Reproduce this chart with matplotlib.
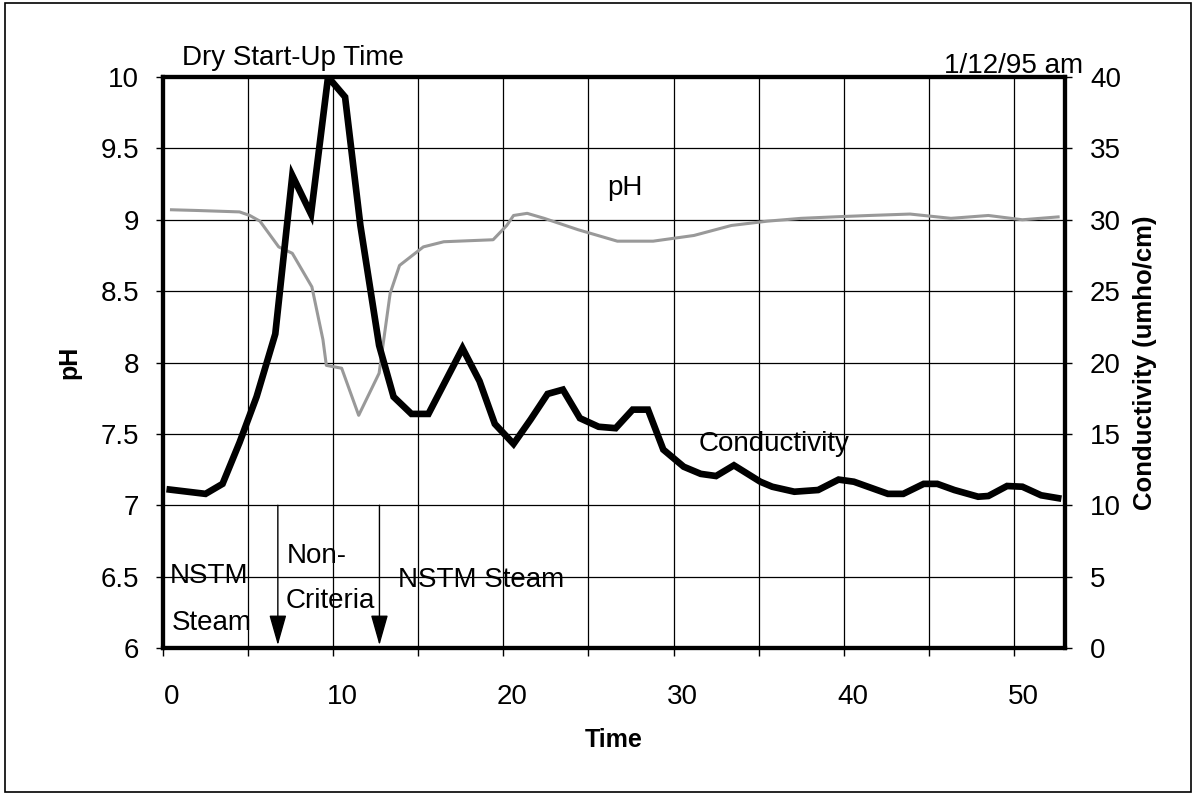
import matplotlib.pyplot as plt
from matplotlib.patches import Rectangle
from matplotlib.transforms import ScaledTranslation

plt.rcParams['font.family'] = ['Liberation Sans', 'DejaVu Sans']

# conductivity (umho/cm) - thick black line, right axis
cond_time = [0.4, 2.5, 3.5, 4.5, 5.5, 6.6, 7.6, 8.7, 9.7, 10.7, 11.6, 12.7,
             13.55, 14.6, 15.6, 17.6, 18.6, 19.5, 20.6, 21.6, 22.6, 23.5,
             24.5, 25.6, 26.6, 27.6, 28.5, 29.4, 30.6, 31.6, 32.5, 33.55,
             35.1, 35.8, 37.1, 38.5, 39.7, 40.6, 42.6, 43.5, 44.7, 45.5,
             46.5, 47.9, 48.5, 49.6, 50.5, 51.6, 52.6]
cond = [11.1, 10.8, 11.5, 14.4, 17.6, 22.0, 33.1, 30.4, 40.0, 38.6, 29.6, 21.2,
        17.6, 16.4, 16.4, 21.0, 18.7, 15.7, 14.3, 16.0, 17.8, 18.1,
        16.1, 15.5, 15.4, 16.7, 16.7, 13.9, 12.7, 12.2, 12.05, 12.8,
        11.65, 11.3, 10.95, 11.07, 11.8, 11.65, 10.8, 10.8, 11.5, 11.5,
        11.07, 10.6, 10.65, 11.35, 11.3, 10.7, 10.5]

# pH - grey trace, left axis
ph_time = [0.5, 2.0, 4.5, 5.1, 5.7, 6.8, 7.6, 8.75, 9.4, 9.6, 10.5, 11.5,
           12.7, 13.35, 13.9, 15.3, 16.5, 19.4, 20.2, 20.6, 21.4, 22.4,
           24.4, 26.7, 28.8, 31.2, 33.4, 35.5, 37.5, 39.4, 41.5, 43.9,
           46.3, 48.5, 50.5, 52.6]
ph = [9.07, 9.065, 9.055, 9.03, 8.99, 8.81, 8.765, 8.53, 8.16, 7.98, 7.96, 7.63,
      7.925, 8.485, 8.68, 8.81, 8.846, 8.86, 8.96, 9.03, 9.045, 9.01,
      8.93, 8.85, 8.85, 8.89, 8.96, 8.99, 9.01, 9.02, 9.03, 9.04,
      9.01, 9.03, 9.0, 9.02]

xticks = [0, 5, 10, 15, 20, 25, 30, 35, 40, 45, 50]
xtick_labels = ['0', '', '10', '', '20', '', '30', '', '40', '', '50']
ph_ticks = [6, 6.5, 7, 7.5, 8, 8.5, 9, 9.5, 10]
ph_tick_labels = ['6', '6.5', '7', '7.5', '8', '8.5', '9', '9.5', '10']
cond_ticks = [0, 5, 10, 15, 20, 25, 30, 35, 40]

# arrows marking the non-criteria window
arrow_times = [6.75, 12.72]

FS = 20

fig = plt.figure(figsize=(12.01, 7.93), dpi=100)
ax = fig.add_axes([0.1357, 0.1828, 0.751, 0.7201])
ax2 = ax.twinx()

ax.plot(ph_time, ph, color='0.6', lw=2.2)
ax2.plot(cond_time, cond, color='k', lw=4.8, solid_joinstyle='miter')

ax.set_xlim(0, 53)
ax.set_ylim(6, 10)
ax2.set_ylim(0, 40)

ax.set_xticks(xticks)
ax.set_xticklabels(xtick_labels)
ax.set_yticks(ph_ticks)
ax.set_yticklabels(ph_tick_labels)
ax2.set_yticks(cond_ticks)

ax.grid(True, color='k', lw=0.9)

for a in (ax, ax2):
    for s in a.spines.values():
        s.set_linewidth(3)

ax.tick_params(axis='y', direction='out', length=5, width=1, pad=12, labelsize=FS)
ax.tick_params(axis='x', direction='out', length=6, width=1, pad=20, labelsize=FS)
ax2.tick_params(axis='y', direction='out', length=5, width=1, pad=13, labelsize=FS)

# x labels sit a little right of their ticks in the original
offset = ScaledTranslation(0.09, 0, fig.dpi_scale_trans)
for label in ax.get_xticklabels():
    label.set_transform(label.get_transform() + offset)

ax.set_xlabel('Time', fontsize=18, fontweight='bold')
ax.xaxis.set_label_coords(0.5, -0.14)
ax.set_ylabel('pH', fontsize=18, fontweight='bold')
ax.yaxis.set_label_coords(-0.09, 0.5)
ax2.set_ylabel('Conductivity (umho/cm)', fontsize=18.5, fontweight='bold')
ax2.yaxis.set_label_coords(1.076, 0.5)

ax.text(0.021, 1.021, 'Dry Start-Up Time', transform=ax.transAxes,
        va='baseline', fontsize=FS)
ax.text(1.02, 1.007, '1/12/95 am', transform=ax.transAxes,
        ha='right', va='baseline', fontsize=FS)

ax.text(26.1, 9.17, 'pH', fontsize=FS, va='baseline')
ax.text(31.5, 7.38, 'Conductivity', fontsize=FS, va='baseline')
ax.text(0.4, 6.455, 'NSTM', fontsize=FS, va='baseline')
ax.text(0.5, 6.126, 'Steam', fontsize=FS, va='baseline')
ax.text(7.3, 6.595, 'Non-', fontsize=FS, va='baseline')
ax.text(7.2, 6.28, 'Criteria', fontsize=FS, va='baseline')
ax.text(13.8, 6.427, 'NSTM Steam', fontsize=FS, va='baseline')

for t in arrow_times:
    ax.annotate('', xy=(t, 6.02), xytext=(t, 7.0),
                arrowprops=dict(arrowstyle='-|>,head_length=1.9,head_width=0.54',
                                mutation_scale=10, color='k', lw=1,
                                shrinkA=0, shrinkB=0))

# outer frame around the whole chart
fig.patches.append(Rectangle((0.004, 0.0013), 0.9875, 0.995, transform=fig.transFigure,
                             fill=False, ec='k', lw=1.2))

fig.savefig('out.png', dpi=100)
